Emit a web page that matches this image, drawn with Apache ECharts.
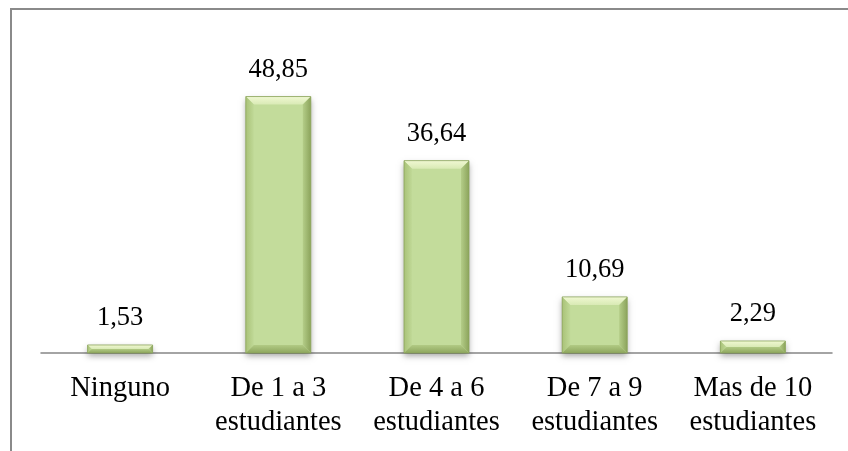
<!DOCTYPE html>
<html><head><meta charset="utf-8">
<script src="https://cdn.jsdelivr.net/npm/echarts@6/dist/echarts.min.js"></script>
<style>html,body{margin:0;padding:0;background:#fff}#c{width:848px;height:451px}</style>
</head><body><div id="c"></div>
<script>
var categories = ['Ninguno', 'De 1 a 3\nestudiantes', 'De 4 a 6\nestudiantes', 'De 7 a 9\nestudiantes', 'Mas de 10\nestudiantes'];
var values = [1.53, 48.85, 36.64, 10.69, 2.29];
var labels = ['1,53', '48,85', '36,64', '10,69', '2,29'];

var chart = echarts.init(document.getElementById('c'));
var font = '"Liberation Serif", "Times New Roman", serif';
var BAR_W = 65;

function renderItem(params, api) {
  var idx = api.value(0), v = api.value(1);
  var top = api.coord([idx, v]);
  var base = api.coord([idx, 0]);
  var x0 = top[0] - BAR_W / 2, x1 = x0 + BAR_W, y0 = top[1], y1 = base[1];
  var h = y1 - y0;
  var b = Math.min(8, h / 2);
  return {
    type: 'group',
    children: [
      { type: 'rect', shape: { x: x0, y: y0, width: BAR_W, height: h },
        style: { fill: '#c3dc9b', shadowColor: 'rgba(0,0,0,0.35)', shadowBlur: 6, shadowOffsetY: 3 } },
      { type: 'polygon', shape: { points: [[x0, y0], [x1, y0], [x1 - b, y0 + b], [x0 + b, y0 + b]] },
        style: { fill: { type: 'linear', x: 0, y: 0, x2: 0, y2: 1, colorStops: [
          { offset: 0, color: '#f0f8d2' }, { offset: 1, color: '#d9eab5' }] } } },
      { type: 'polygon', shape: { points: [[x0, y0], [x0 + b, y0 + b], [x0 + b, y1 - b], [x0, y1]] },
        style: { fill: { type: 'linear', x: 0, y: 0, x2: 1, y2: 0, colorStops: [
          { offset: 0, color: '#a9c278' }, { offset: 1, color: '#c0d997' }] } } },
      { type: 'polygon', shape: { points: [[x1, y0], [x1, y1], [x1 - b, y1 - b], [x1 - b, y0 + b]] },
        style: { fill: { type: 'linear', x: 0, y: 0, x2: 1, y2: 0, colorStops: [
          { offset: 0, color: '#b4cd88' }, { offset: 1, color: '#8ca45c' }] } } },
      { type: 'polygon', shape: { points: [[x0, y1], [x0 + b, y1 - b], [x1 - b, y1 - b], [x1, y1]] },
        style: { fill: { type: 'linear', x: 0, y: 0, x2: 0, y2: 1, colorStops: [
          { offset: 0, color: '#b1ca84' }, { offset: 1, color: '#8ea65e' }] } } },
      { type: 'rect', shape: { x: x0, y: y0, width: BAR_W, height: h },
        style: { fill: null, stroke: '#8aa35a', lineWidth: 0.8 } },
      { type: 'text', x: top[0], y: y0 - 13,
        style: { text: labels[params.dataIndex], fill: '#000', font: '26.5px ' + font,
                 align: 'center', verticalAlign: 'bottom' } }
    ]
  };
}

chart.setOption({
  animation: false,
  graphic: [{
    type: 'polyline', silent: true,
    shape: { points: [[11, 451], [11, 9], [848, 9]] },
    style: { stroke: '#8a8a8a', lineWidth: 2, fill: null }
  }],
  grid: { left: 41, right: 16, top: 38, bottom: 98 },
  xAxis: {
    type: 'category', data: categories,
    axisLine: { lineStyle: { color: '#868686', width: 1.5 } },
    axisTick: { show: false },
    axisLabel: { color: '#000', fontFamily: font, fontSize: 28.5, lineHeight: 34, margin: 19, interval: 0 }
  },
  yAxis: { type: 'value', min: 0, max: 60, show: false, splitLine: { show: false } },
  series: [{
    type: 'custom', renderItem: renderItem, z: 3,
    data: values.map(function (v, i) { return [i, v]; })
  }]
});
</script></body></html>
